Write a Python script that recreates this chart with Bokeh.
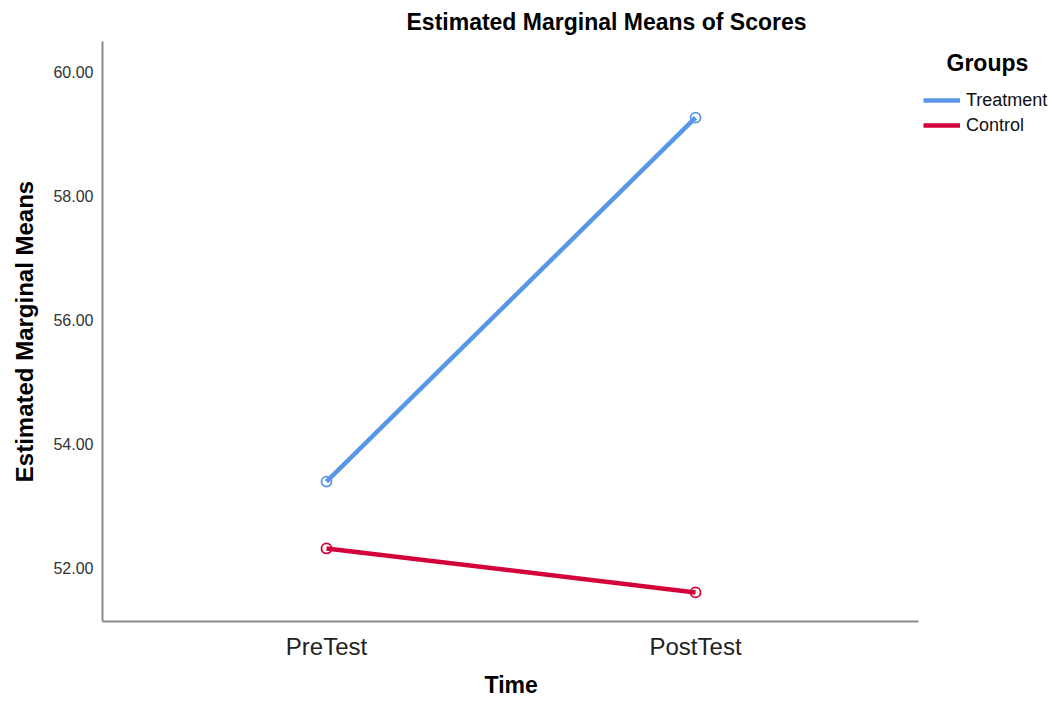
from bokeh.plotting import figure
from bokeh.models import Range1d, FixedTicker, NumeralTickFormatter, Legend, LegendItem, Title, Label
from bokeh.embed import file_html
from bokeh.resources import INLINE

categories = ["PreTest", "PostTest"]
groups = ["Treatment", "Control"]
treatment = [53.39, 59.27]
control = [52.31, 51.60]
colors = ["#5896E6", "#D4003A"]
y_ticks = [52, 54, 56, 58, 60]

FONT = "Liberation Sans"

# frame spans to the right edge so that the legend (inside the frame) is not clipped;
# the x axis line itself is limited with `bounds`
p = figure(width=1053, height=705, output_backend="svg", toolbar_location=None,
           x_range=Range1d(-0.607, 1.970), y_range=Range1d(51.13, 60.5),
           min_border_left=102, min_border_top=40, min_border_bottom=84, min_border_right=0)

p.title = Title(text="Estimated Marginal Means of Scores", text_font=FONT,
                text_font_size="23px", text_font_style="bold", align="left",
                offset=304, text_color="#000000", standoff=13)

xs = list(range(len(categories)))
items = []
for name, vals, c in zip(groups, [treatment, control], colors):
    r = p.line(xs, vals, line_color=c, line_width=4.5)
    p.scatter(xs, vals, size=10, marker="circle", fill_color="white", fill_alpha=0.0,
              line_color=c, line_width=1.8)
    items.append(LegendItem(label=name, renderers=[r]))

legend = Legend(items=items, label_text_font=FONT, label_text_font_size="18px",
                label_text_color="#111111",
                glyph_width=37, glyph_height=22, label_standoff=6, spacing=3,
                border_line_color=None, background_fill_alpha=0, padding=0, margin=0,
                location=(821, 485), label_height=22)
p.add_layout(legend, "center")

p.add_layout(Label(x=844, y=559, x_units="screen", y_units="screen", text="Groups",
                   text_font=FONT, text_font_size="23px",
                   text_font_style="bold", text_baseline="middle", text_color="#000000"))

p.xgrid.visible = False
p.ygrid.visible = False
p.outline_line_color = None

p.xaxis.ticker = FixedTicker(ticks=xs)
p.xaxis.major_label_overrides = {i: c for i, c in enumerate(categories)}
p.xaxis.bounds = (-0.607, 1.604)
p.yaxis.ticker = FixedTicker(ticks=y_ticks)
p.yaxis.formatter = NumeralTickFormatter(format="0.00")

for ax in (p.xaxis[0], p.yaxis[0]):
    ax.axis_line_color = "#8a8a8a"
    ax.axis_line_width = 2
    ax.major_tick_line_color = None
    ax.minor_tick_line_color = None
    ax.major_tick_out = 0
    ax.major_tick_in = 0
    ax.minor_tick_out = 0
    ax.major_label_text_font = FONT

p.yaxis.axis_label = "Estimated Marginal Means"
p.yaxis.axis_label_text_font = FONT
p.yaxis.axis_label_text_font_style = "bold"
p.yaxis.axis_label_text_font_size = "24px"
p.yaxis.axis_label_text_color = "#000000"
p.yaxis.axis_label_standoff = 12

p.add_layout(Title(text="Time", text_font=FONT, text_font_size="23px", text_font_style="bold",
                   align="left", offset=382, text_color="#000000", standoff=15), "below")

p.xaxis.major_label_text_font_size = "24px"
p.xaxis.major_label_text_color = "#222222"
p.xaxis.major_label_standoff = 11
p.yaxis.major_label_text_font_size = "16px"
p.yaxis.major_label_text_color = "#333333"
p.yaxis.major_label_standoff = 9

open("out.html", "w").write(file_html(p, INLINE))
